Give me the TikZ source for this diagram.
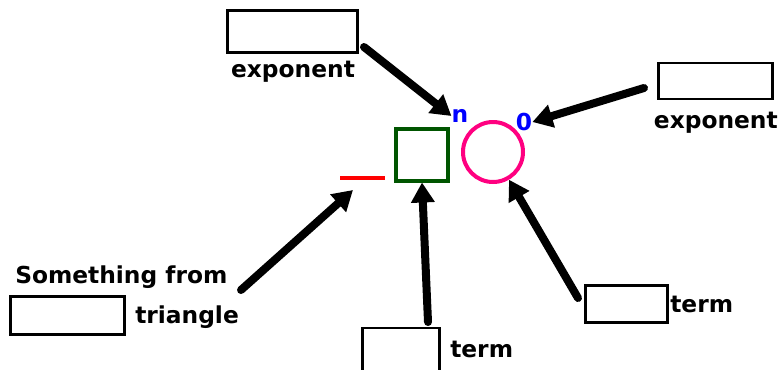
\documentclass[tikz,border=0pt]{standalone}
\usepackage{fontspec}
\setmainfont{DejaVu Sans}
\usetikzlibrary{arrows.meta}

\definecolor{sqgreen}{RGB}{0,85,0}
\definecolor{ringpink}{RGB}{255,0,128}
\definecolor{letterblue}{RGB}{0,0,255}

\begin{document}
\begin{tikzpicture}[
			x=0.75pt, y=-0.75pt,
			blank/.style={draw, line width=2.2pt, inner sep=0pt},
			word/.style={font=\bfseries\fontsize{17.5}{20}\selectfont, inner sep=0pt},
			pointer/.style={line width=6pt, line cap=round, -{Triangle[length=15pt,width=17pt]}}
			]
			\useasboundingbox (0,0) rectangle (781,369);
			
			% the expression
			\draw[red, line width=2.3pt] (340,178) coordinate (minusL) -- (385,178) coordinate (minusR);
			\node[draw=sqgreen, line width=3pt, minimum size=39pt, inner sep=0pt] (base) at (422,154.5) {};
			\node[circle, draw=ringpink, line width=3pt, minimum size=45pt, inner sep=0pt] (ring) at (493,152) {};
			\node[word, text=letterblue] (n) at (460,116) {n};
			\node[word, text=letterblue] (zero) at (524,122) {0};
			
			% blank boxes and labels
			\node[blank, minimum width=98pt, minimum height=31pt] (expA) at (292.5,31.5) {};
			\node[word] (expAtxt) at (293,72) {exponent};
			\node[blank, minimum width=86pt, minimum height=27pt] (expB) at (715.5,81) {};
			\node[word, anchor=east] (expBtxt) at (778,123) {exponent};
			\node[blank, minimum width=86pt, minimum height=28pt] (tri) at (67.5,315.5) {};
			\node[word, anchor=west] (somefrom) at (15,277) {Something from};
			\node[word, anchor=west] (tritxt) at (135,317) {triangle};
			\node[blank, minimum width=58pt, minimum height=36pt] (termA) at (401,352) {};
			\node[word, anchor=west] (termAtxt) at (450,349) {term};
			\node[blank, minimum width=62pt, minimum height=28pt] (termB) at (626.5,304) {};
			\node[word, anchor=west] (termBtxt) at (670,304) {term};
			
			% arrows
			\coordinate (tailA) at (364,47);
			\coordinate (tailB) at (644,88);
			\coordinate (tailT) at (241,290);
			\coordinate (tailC) at (428,322);
			\coordinate (tailD) at (578,298);
			\coordinate (belowminus) at (353,190);
			\draw[pointer] (tailA) -- (n.west);
			\draw[pointer] (tailB) -- (zero.east);
			\draw[pointer] (tailT) -- (belowminus);
			\draw[pointer] (tailC) -- (base.south);
			\draw[pointer] (tailD) -- (ring.-60);
		\end{tikzpicture}
\end{document}
